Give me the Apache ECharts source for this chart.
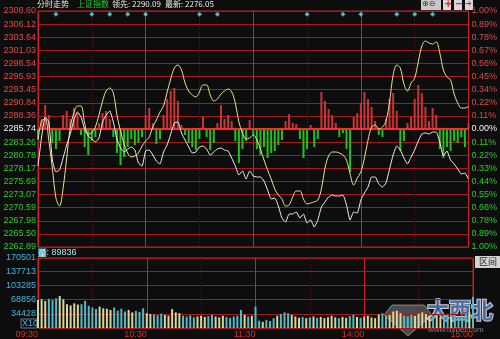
<!DOCTYPE html>
<html><head><meta charset="utf-8">
<script src="https://cdn.jsdelivr.net/npm/echarts@6/dist/echarts.min.js"></script>
<style>html,body{margin:0;padding:0;background:#0d0d0d;}#c{width:500px;height:339px;}</style>
</head><body><div id="c"></div>
<script>
// ---- tick labels ----
const priceTicks = ['2308.60','2306.12','2303.64','2301.03','2298.54','2295.93','2293.45','2290.84','2288.36','2285.74','2283.26','2280.78','2278.17','2275.69','2273.07','2270.59','2267.98','2265.50','2262.89'];
const pctTicks = ['1.00%','0.89%','0.78%','0.67%','0.56%','0.45%','0.34%','0.22%','0.11%','0.00%','0.11%','0.22%','0.33%','0.44%','0.55%','0.66%','0.78%','0.89%','1.00%'];
const volTicks = ['', '34428', '68856', '103285', '137713', '170501'];
const timeTicks = ['09:30', '', '10:30', '', '11:30', '', '14:00', '', '15:00'];

// ---- data (one sample every 2 minutes, 09:30-11:30 / 13:00-15:00) ----
const STEP_MIN = 2;
const indexLine = [2278.58,2284.20,2288.07,2287.10,2279.74,2277.42,2277.80,2280.13,2282.65,2284.78,
2287.49,2289.04,2288.07,2285.74,2284.39,2283.81,2283.23,2284.00,2287.10,2288.46,
2289.23,2287.10,2283.81,2282.06,2281.29,2281.87,2282.26,2281.68,2279.16,2278.58,
2281.48,2281.68,2280.71,2279.55,2278.97,2281.29,2282.65,2284.78,2286.91,2287.10,
2284.97,2283.61,2282.26,2281.10,2281.29,2282.26,2282.45,2281.87,2280.71,2281.29,
2281.87,2282.06,2281.68,2281.48,2280.13,2278.58,2276.83,2277.61,2276.06,2277.61,
2276.64,2276.45,2276.45,2275.67,2273.93,2272.19,2272.38,2270.83,2268.51,2267.73,
2269.28,2269.28,2269.67,2268.51,2269.28,2267.54,2268.12,2266.76,2268.12,2270.64,
2271.61,2272.57,2272.96,2272.77,2272.77,2272.96,2271.02,2268.12,2269.67,2269.47,
2271.99,2273.35,2274.51,2276.45,2276.45,2275.09,2274.51,2275.29,2278.00,2280.71,
2282.45,2281.68,2280.13,2278.97,2280.32,2281.68,2283.42,2284.78,2284.97,2284.78,
2285.16,2285.16,2283.23,2280.51,2281.48,2279.74,2278.97,2278.00,2277.03,2277.22,
2276.05];
const leadLine = [2283.61,2287.29,2287.68,2283.61,2278.19,2272.38,2270.83,2274.32,2280.13,2286.13,
2288.84,2290.20,2290.20,2286.91,2284.78,2284.97,2286.13,2288.46,2291.17,2293.10,
2293.69,2292.72,2288.46,2285.36,2282.84,2281.10,2280.32,2280.51,2281.10,2282.45,
2283.42,2284.20,2286.13,2287.49,2289.04,2290.20,2292.91,2295.43,2297.56,2298.14,
2297.17,2294.65,2293.10,2292.33,2291.94,2292.91,2294.27,2294.27,2292.33,2291.17,
2291.56,2292.52,2293.10,2293.49,2292.91,2290.78,2287.10,2284.97,2283.81,2284.00,
2284.58,2283.61,2281.87,2279.74,2277.80,2276.06,2274.12,2272.96,2272.19,2270.83,
2271.02,2272.57,2273.74,2273.74,2272.19,2271.22,2271.41,2271.61,2271.99,2274.12,
2278.19,2280.51,2281.29,2281.29,2281.10,2280.71,2279.74,2277.03,2274.90,2276.25,
2277.42,2280.13,2283.61,2286.13,2286.52,2285.74,2286.13,2287.29,2290.97,2296.20,
2298.14,2297.56,2294.46,2293.10,2294.65,2295.62,2298.72,2301.82,2302.79,2302.40,
2302.21,2302.60,2300.47,2297.17,2295.82,2295.24,2292.52,2290.78,2289.81,2289.81,
2290.09];
const powerBars = [-10,10,24,14,-14,-20,-12,14,18,10,
21,16,-6,-18,-26,-12,-8,6,16,18,
10,-8,-24,-36,-28,-18,-10,-16,-14,-8,
14,21,6,-15,-10,14,30,38,41,28,
4,-6,-14,-18,-21,-10,12,-8,-21,-14,
6,24,10,14,8,-12,-34,-20,-12,9,
-6,-20,-26,-18,-29,-24,-22,-16,-11,8,
15,6,5,-10,-29,-20,4,-18,-10,37,
28,20,14,6,-8,-4,-20,-43,12,16,
26,37,30,22,8,-6,-8,10,30,36,
18,-22,-12,6,12,30,44,36,22,8,
21,14,-20,-29,-18,-22,-12,-14,-8,-18,
6];
const volume = [68000,70000,66000,71000,68000,72000,78000,70000,58000,55000,
60000,57000,58000,66000,54000,50000,46000,52000,48000,47000,
44000,50000,42000,47000,40000,44000,38000,42000,39000,48000,
36000,34000,33000,31000,35000,32000,30000,46000,38000,36000,
30000,28000,31000,26000,28000,30000,27000,29000,32000,28000,
26000,30000,27000,25000,28000,30000,44000,32000,28000,30000,
52000,18000,15000,20000,17000,24000,30000,34000,38000,36000,
32000,28000,25000,27000,24000,26000,28000,25000,27000,24000,
26000,30000,26000,24000,27000,25000,29000,32000,27000,25000,
28000,30000,26000,24000,33000,36000,30000,32000,40000,42000,
36000,30000,28000,32000,29000,35000,38000,34000,30000,28000,
31000,27000,29000,33000,28000,30000,27000,31000,34000,38000,
76000];
const eventMinutes = [10, 30, 40, 50, 60, 90, 100, 150, 170, 180, 200, 210, 220];
const volText = '量: 89836';

// ---- chart ----
const PRICE_MIN = 2262.89, PRICE_MAX = 2308.60;
const VOL_MAX = 170501, VOL_STEP = 137713 / 4;
const HIST_RANGE = 118;
const GRID_RED = '#a81818', DOT_RED = '#701414', BOLD_RED = '#d02020';
const numFont = 'Liberation Sans';
const cjkFont = 'Noto Sans CJK SC';

const pair = arr => arr.map((v, i) => [i * STEP_MIN, v]);
const chart = echarts.init(document.getElementById('c'), null, {renderer: 'canvas'});

function xAxes(grid, interval, dotted, labels) {
  return {
    type: 'value', gridIndex: grid, position: 'bottom', min: 0, max: 240, interval: interval,
    axisLine: {show: false}, axisTick: {show: false},
    axisLabel: labels ? {
      show: true, color: '#e02828', fontFamily: numFont, fontSize: 9, margin: 2, align: 'right',
      formatter: v => timeTicks[Math.round(v / 30)] || ''
    } : {show: false},
    splitLine: {show: true, lineStyle: dotted ? {color: DOT_RED, width: 1, type: [1, 2]} : {color: BOLD_RED, width: 1}}
  };
}
const labelColor = v => { const k = Math.round(Number(v)); return k > 9 ? '#e84444' : (k === 9 ? '#f4f4f4' : '#22d022'); };

const option = {
  backgroundColor: '#0d0d0d',
  animation: false,
  textStyle: {fontFamily: numFont},
  grid: [
    {left: 38, top: 11, width: 435, height: 236, show: true, borderColor: BOLD_RED, borderWidth: 1, backgroundColor: 'transparent'},
    {left: 38, top: 258, width: 435, height: 71, show: true, borderColor: BOLD_RED, borderWidth: 1, backgroundColor: 'transparent'}
  ],
  xAxis: [
    xAxes(0, 30, true, false),
    xAxes(0, 60, false, false),
    xAxes(1, 30, true, false),
    xAxes(1, 60, false, true)
  ],
  yAxis: [
    {type: 'value', gridIndex: 0, min: PRICE_MIN, max: PRICE_MAX, show: false, splitLine: {show: false}},
    {type: 'value', gridIndex: 0, min: 0, max: 18, interval: 1, position: 'left',
      axisLine: {show: false}, axisTick: {show: false},
      axisLabel: {fontFamily: numFont, fontSize: 9, margin: 2,
        formatter: v => priceTicks[18 - Math.round(v)], color: labelColor},
      splitLine: {show: true, lineStyle: {color: GRID_RED, width: 1}}},
    {type: 'value', gridIndex: 0, min: 0, max: 18, interval: 1, position: 'right',
      axisLine: {show: false}, axisTick: {show: false},
      axisLabel: {fontFamily: numFont, fontSize: 9, margin: 3,
        formatter: v => pctTicks[18 - Math.round(v)], color: labelColor},
      splitLine: {show: false}},
    {type: 'value', gridIndex: 0, min: -HIST_RANGE, max: HIST_RANGE, show: false, splitLine: {show: false}},
    {type: 'value', gridIndex: 1, min: 0, max: VOL_MAX, interval: VOL_STEP, position: 'left',
      axisLine: {show: false}, axisTick: {show: false},
      axisLabel: {fontFamily: numFont, fontSize: 9, margin: 2, color: '#3cb8dc',
        formatter: v => v >= VOL_MAX - 1 ? volTicks[5] : (volTicks[Math.round(v / VOL_STEP)] || '')},
      splitLine: {show: true, lineStyle: {color: GRID_RED, width: 1}}}
  ],
  series: [
    {type: 'bar', name: 'power', xAxisIndex: 0, yAxisIndex: 3, barWidth: 2, z: 2,
      data: pair(powerBars),
      itemStyle: {color: p => p.value[1] >= 0 ? '#cc3434' : '#1fc21f'},
      markLine: {silent: true, symbol: 'none', label: {show: false}, z: 5,
        lineStyle: {color: '#ff2a2a', width: 2, type: 'solid'}, data: [{yAxis: 0}]}},
    {type: 'line', name: 'lead', xAxisIndex: 0, yAxisIndex: 0, data: pair(leadLine),
      showSymbol: false, smooth: 0.35, z: 6, lineStyle: {color: '#e8e08c', width: 1}},
    {type: 'line', name: 'index', xAxisIndex: 0, yAxisIndex: 0, data: pair(indexLine),
      showSymbol: false, smooth: 0.15, z: 7, lineStyle: {color: '#f2f2f2', width: 1}},
    {type: 'scatter', name: 'events', xAxisIndex: 0, yAxisIndex: 1, symbol: 'diamond', symbolSize: 5, z: 8,
      data: eventMinutes.map(m => [m, 17.75]), itemStyle: {color: '#5ee0f0'}},
    {type: 'bar', name: 'volume', xAxisIndex: 2, yAxisIndex: 4, barWidth: 2, z: 3,
      data: pair(volume),
      itemStyle: {color: p => { const i = p.dataIndex; return (i === 0 || indexLine[i] >= indexLine[i - 1]) ? '#d6d69a' : '#4cbcc6'; }}}
  ],
  graphic: [
    {type: 'text', left: 37, top: 0, style: {text: '分时走势', fill: '#e6e6e6', font: '8px "' + cjkFont + '"'}},
    {type: 'text', left: 77, top: 0, style: {text: '上证指数', fill: '#22d022', font: '8px "' + cjkFont + '"'}},
    {type: 'text', left: 112, top: 0, style: {text: '领先: ' + leadLine[leadLine.length - 1].toFixed(2), fill: '#ececec', font: '8px "' + cjkFont + '"'}},
    {type: 'text', left: 165, top: 0, style: {text: '最新: ' + indexLine[indexLine.length - 1].toFixed(2), fill: '#ececec', font: '8px "' + cjkFont + '"'}},
    // toolbar icons top right
    {type: 'rect', shape: {x: 421, y: 0, width: 20, height: 10}, style: {fill: '#c8c8c8'}},
    {type: 'text', left: 422, top: 0, style: {text: '⊕⊖', fill: '#303030', font: '8px "DejaVu Sans"'}},
    {type: 'rect', shape: {x: 443, y: 0, width: 8, height: 10}, style: {fill: '#d8d8d8'}},
    {type: 'text', left: 444, top: -1, style: {text: '+', fill: '#e02020', font: 'bold 10px "DejaVu Sans"'}},
    {type: 'rect', shape: {x: 454, y: 0, width: 8, height: 10}, style: {fill: '#d8d8d8'}},
    {type: 'text', left: 455, top: -1, style: {text: '−', fill: '#e02020', font: 'bold 10px "DejaVu Sans"'}},
    {type: 'rect', shape: {x: 465, y: 0, width: 8, height: 10}, style: {fill: '#d8d8d8'}},
    {type: 'text', left: 465, top: 0, style: {text: '➔', fill: '#e02020', font: '8px "DejaVu Sans"'}},
    // volume header
    {type: 'text', left: 38, top: 248, style: {
      text: '{a|量}{b|' + volText.slice(1) + '}',
      rich: {a: {backgroundColor: '#1f8090', fill: '#e8ffff', fontFamily: cjkFont, fontSize: 8.5},
             b: {fill: '#a8e6f0', fontFamily: numFont, fontSize: 9}}}},
    {type: 'rect', shape: {x: 21, y: 319, width: 16, height: 9}, style: {fill: 'none', stroke: '#6a7a8a', lineWidth: 1}},
    {type: 'text', left: 22, top: 319, style: {text: 'X10', fill: '#3cb8dc', font: '9px "' + numFont + '"'}},
    // interval button
    {type: 'rect', shape: {x: 475, y: 256, width: 25, height: 12}, style: {fill: '#d4d4d4'}},
    {type: 'text', left: 479, top: 257, style: {text: '区间', fill: '#202020', font: '9px "' + cjkFont + '"'}},
    // watermark
    {type: 'polygon', shape: {points: [[392, 305], [424, 305], [432, 315], [408, 336], [384, 315]]},
      style: {fill: 'rgba(150,150,150,0.45)', stroke: 'rgba(220,220,220,0.5)', lineWidth: 1}},
    {type: 'text', left: 426, top: 298, style: {text: '大西北', fill: 'rgba(63,104,172,0.85)', stroke: 'rgba(255,255,255,0.8)', lineWidth: 2,
      font: 'bold 22px "' + cjkFont + '"'}},
    {type: 'text', left: 428, top: 326, style: {text: 'www.dxbei.com', fill: 'rgba(126,142,168,0.9)', font: '8px "' + numFont + '"'}}
  ]
};
chart.setOption(option);
</script>
</body></html>
